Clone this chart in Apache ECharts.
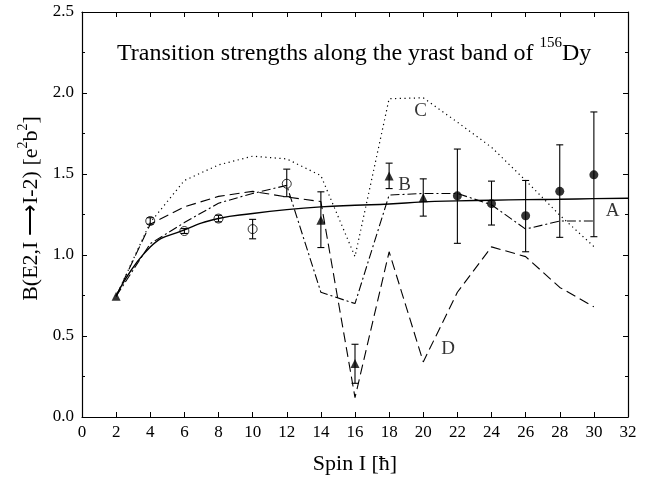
<!DOCTYPE html>
<html>
<head>
<meta charset="utf-8">
<script src="https://cdn.jsdelivr.net/npm/echarts@6/dist/echarts.min.js"></script>
<style>html,body{margin:0;padding:0;background:#fff}#c{width:654px;height:480px}</style>
</head>
<body>
<div id="c"></div>
<script>
// ---- data ----
var spinsA = [2,4,6,8,10,12,14,16,18,20,22,24,26,28,30,32];
var curveA = [0.745,1.05,1.155,1.225,1.256,1.28,1.297,1.307,1.315,1.328,1.334,1.338,1.342,1.344,1.348,1.35];
var spinsBCD = [2,4,6,8,10,12,14,16,18,20,22,24,26,28,30];
var curveB = [0.745,1.07,1.20,1.32,1.38,1.43,0.77,0.70,1.37,1.38,1.38,1.31,1.16,1.21,1.21];
var curveC = [0.745,1.20,1.46,1.556,1.61,1.593,1.49,0.99,1.965,1.97,1.82,1.665,1.46,1.246,1.052];
var curveD = [0.745,1.19,1.297,1.362,1.393,1.358,1.33,0.12,1.02,0.34,0.77,1.05,0.99,0.80,0.68];

var triSpin = [2,14,16,18,20];
var triVal  = [0.745,1.215,0.33,1.487,1.354];
var triLo   = [0.745,1.046,0.208,1.41,1.24];
var triHi   = [0.745,1.39,0.449,1.567,1.47];

var openSpin = [4,6,8,10,12];
var openVal  = [1.21,1.148,1.225,1.16,1.44];
var openLo   = [1.19,1.133,1.205,1.10,1.36];
var openHi   = [1.23,1.163,1.245,1.22,1.53];

var fillSpin = [22,24,26,28,30];
var fillVal  = [1.365,1.317,1.242,1.393,1.495];
var fillLo   = [1.072,1.185,1.02,1.109,1.113];
var fillHi   = [1.654,1.456,1.46,1.68,1.883];

var xTicks = [0,2,4,6,8,10,12,14,16,18,20,22,24,26,28,30,32];
var yTicks = [0.0,0.5,1.0,1.5,2.0,2.5];

var curveLabels = [['A',31.1,1.27],['B',18.9,1.435],['C',19.85,1.89],['D',21.45,0.42]];

// ---- build ----
function pairs(xs, ys){ return xs.map(function(x,i){return [x, ys[i]];}); }
function errData(xs, lo, hi){ return xs.map(function(x,i){return [x, lo[i], hi[i]];}); }

var FONT = 'Liberation Serif';
var chart = echarts.init(document.getElementById('c'), null, {renderer:'canvas'});

var errRender = function(params, api){
  var x = api.value(0), lo = api.value(1), hi = api.value(2);
  if (lo === hi) return null;
  var p1 = api.coord([x, hi]), p2 = api.coord([x, lo]);
  var w = 3.5;
  var st = {stroke:'#000', lineWidth:1.1};
  return {type:'group', children:[
    {type:'line', shape:{x1:p1[0],y1:p1[1],x2:p2[0],y2:p2[1]}, style:st},
    {type:'line', shape:{x1:p1[0]-w,y1:p1[1],x2:p1[0]+w,y2:p1[1]}, style:st},
    {type:'line', shape:{x1:p2[0]-w,y1:p2[1],x2:p2[0]+w,y2:p2[1]}, style:st}
  ]};
};

function axisBase(extra){
  return Object.assign({
    type:'value', min:0,
    axisLine:{show:true, onZero:false, lineStyle:{color:'#000', width:1.2}},
    axisTick:{show:true, inside:true, length:5, lineStyle:{color:'#000'}},
    splitLine:{show:false}
  }, extra);
}

var option = {
  animation:false,
  backgroundColor:'#fff',
  grid:{left:82, right:26, top:12, bottom:60},
  xAxis:[
    axisBase({max:32, interval:2, position:'bottom',
      axisLabel:{color:'#000', fontFamily:FONT, fontSize:17, margin:7,
        formatter:function(v){return xTicks.indexOf(v)>=0 ? String(v) : '';}},
      name:'Spin I [ħ]', nameLocation:'middle', nameGap:36,
      nameTextStyle:{color:'#000', fontFamily:FONT, fontSize:22}}),
    axisBase({max:32, interval:2, position:'top', axisLabel:{show:false}})
  ],
  yAxis:[
    axisBase({max:2.5, interval:0.5, position:'left',
      minorTick:{show:true, splitNumber:2, length:3, lineStyle:{color:'#000'}},
      axisLabel:{color:'#000', fontFamily:FONT, fontSize:17, margin:8,
        formatter:function(v){return v.toFixed(1);}},
      name:'{n|B(E2,I ⟶I-2) [e}{s|2}{n|b}{s|2}{n|]}', nameLocation:'middle', nameGap:30, nameRotate:90,
      nameTextStyle:{color:'#000', fontFamily:FONT, fontSize:22, padding:[0,0,0,12],
        rich:{n:{fontFamily:FONT, fontSize:22, color:'#000', lineHeight:26, verticalAlign:'bottom'},
              s:{fontFamily:FONT, fontSize:14, color:'#000', lineHeight:26, verticalAlign:'top'}}}}),
    axisBase({max:2.5, interval:0.5, position:'right',
      minorTick:{show:true, splitNumber:2, length:3, lineStyle:{color:'#000'}},
      axisLabel:{show:false}})
  ],
  graphic:[{
    type:'text', left:117, top:36,
    style:{
      text:'{n|Transition strengths along the yrast band of }{s|156}{n|Dy}',
      rich:{n:{fontFamily:FONT, fontSize:24, fill:'#000', lineHeight:30, verticalAlign:'bottom'},
            s:{fontFamily:FONT, fontSize:15, fill:'#000', lineHeight:30, verticalAlign:'top'}}
    }
  }],
  series:[
    {type:'line', data:pairs(spinsA, curveA), symbol:'none', smooth:0.5,
      lineStyle:{color:'#000', width:1.4, type:'solid'}, z:2},
    {type:'line', data:pairs(spinsBCD, curveB), symbol:'none',
      lineStyle:{color:'#000', width:1.1, type:[9,3,2,3]}, z:2},
    {type:'line', data:pairs(spinsBCD, curveC), symbol:'none',
      lineStyle:{color:'#000', width:1.2, type:[1.2,3.5]}, z:2},
    {type:'line', data:pairs(spinsBCD, curveD), symbol:'none',
      lineStyle:{color:'#000', width:1.1, type:[10,5]}, z:2},
    {type:'custom', renderItem:errRender, data:errData(triSpin, triLo, triHi), encode:{x:0,y:[1,2]}, z:3},
    {type:'custom', renderItem:errRender, data:errData(openSpin, openLo, openHi), encode:{x:0,y:[1,2]}, z:3},
    {type:'custom', renderItem:errRender, data:errData(fillSpin, fillLo, fillHi), encode:{x:0,y:[1,2]}, z:3},
    {type:'scatter', data:pairs(triSpin, triVal), symbol:'triangle', symbolSize:9,
      itemStyle:{color:'#000'}, z:4},
    {type:'scatter', data:pairs(openSpin, openVal), symbol:'circle', symbolSize:9,
      itemStyle:{color:'rgba(0,0,0,0)', borderColor:'#000', borderWidth:1}, z:4},
    {type:'scatter', data:pairs(fillSpin, fillVal), symbol:'circle', symbolSize:9,
      itemStyle:{color:'#000'}, z:4},
    {type:'scatter', data:curveLabels.map(function(l){return {value:[l[1],l[2]], name:l[0]};}),
      symbol:'circle', symbolSize:1, itemStyle:{color:'rgba(0,0,0,0)'},
      label:{show:true, position:'inside', formatter:'{b}', color:'#000', fontFamily:FONT, fontSize:19}, z:5}
  ]
};
chart.setOption(option);
</script>
</body>
</html>
